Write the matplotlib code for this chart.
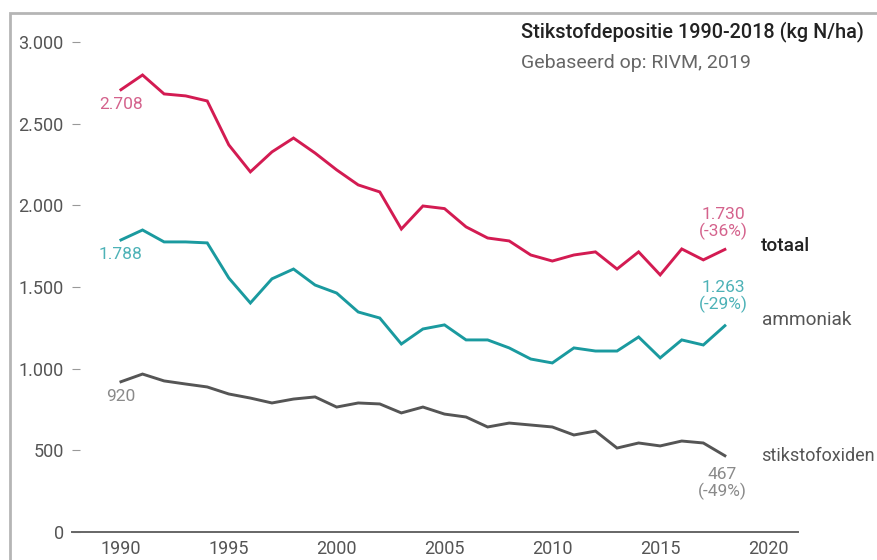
import matplotlib.pyplot as plt
from matplotlib.patches import Rectangle
from matplotlib.ticker import FuncFormatter

years = list(range(1990, 2019))
totaal = [2708, 2798, 2682, 2670, 2639, 2370, 2205, 2327, 2412, 2320,
          2217, 2125, 2082, 1855, 1996, 1980, 1868, 1800, 1782, 1696,
          1659, 1696, 1715, 1610, 1715, 1574, 1733, 1666, 1730]
ammoniak = [1788, 1849, 1776, 1776, 1770, 1555, 1402, 1550, 1610, 1512,
            1463, 1347, 1310, 1151, 1243, 1268, 1176, 1176, 1127, 1059,
            1035, 1127, 1108, 1108, 1194, 1066, 1176, 1145, 1263]
stikstofoxiden = [920, 967, 925, 906, 888, 845, 820, 790, 814, 827,
                  765, 790, 784, 729, 765, 722, 704, 643, 667, 655,
                  643, 594, 618, 514, 545, 527, 557, 545, 467]

series_names = ["totaal", "ammoniak", "stikstofoxiden"]
start_labels = ["2.708", "1.788", "920"]
end_labels = ["1.730\n(-36%)", "1.263\n(-29%)", "467\n(-49%)"]

line_colors = ["#d31b52", "#1a9a9f", "#555555"]
label_colors = ["#d4628c", "#4db2b7", "#8a8a8a"]

plt.rcParams['font.family'] = ['Roboto', 'DejaVu Sans']

fig = plt.figure(figsize=(8.77, 5.6), dpi=100)
ax = fig.add_axes([72 / 877, 28 / 560, 726 / 877, 490 / 560])

# grey frame, cut off at the right and bottom
fig.patches.append(Rectangle((10 / 877, -0.1), 1.2, (547 + 56) / 560,
                             transform=fig.transFigure, fill=False,
                             edgecolor="#b5b5b5", linewidth=2))

data = [totaal, ammoniak, stikstofoxiden]
for vals, c in zip(data, line_colors):
    ax.plot(years, vals, color=c, linewidth=2.1, solid_joinstyle="miter")

ax.set_xlim(1987.73, 2021.39)
ax.set_ylim(0, 3000)
ax.set_xticks(range(1990, 2021, 5))
ax.set_yticks(range(0, 3001, 500))
ax.yaxis.set_major_formatter(FuncFormatter(lambda v, p: f"{int(v):,}".replace(",", ".")))

for s in ["top", "right", "left"]:
    ax.spines[s].set_visible(False)
ax.spines["bottom"].set_color("#666666")
ax.spines["bottom"].set_linewidth(1.4)
ax.tick_params(axis="x", length=0, pad=6, labelsize=13, labelcolor="#555555")
ax.tick_params(axis="y", direction="in", length=6, width=0.8, color="#999999",
               pad=6, labelsize=13, labelcolor="#555555")

# start values
for vals, txt, c in zip(data, start_labels, label_colors):
    ax.annotate(txt, (years[0], vals[0]), xytext=(0, -10.5), textcoords="offset points",
                ha="center", va="center", fontsize=12.5, color=c)

# end values
end_offsets = [(-1, 19), (-1, 21), (-2, -20)]
for vals, txt, c, off in zip(data, end_labels, label_colors, end_offsets):
    ax.annotate(txt, (years[-1], vals[-1]), xytext=off, textcoords="offset points",
                ha="center", va="center", fontsize=12.5, color=c, linespacing=1.05,
                annotation_clip=False)

# series names
name_offsets = [(-2, 2.5), (-1, 4), (-2, 0)]
name_weights = ["medium", "normal", "normal"]
name_colors = ["#222222", "#555555", "#555555"]
name_sizes = [13.7, 13.7, 13]
for vals, name, off, w, c, fs in zip(data, series_names, name_offsets, name_weights,
                                     name_colors, name_sizes):
    ax.annotate(name, (years[-1], vals[-1]), xytext=(off[0] + 28, off[1]),
                textcoords="offset points", ha="left", va="center",
                fontsize=fs, fontweight=w, color=c, annotation_clip=False)

fig.text(521 / 877, 1 - 32 / 560, "Stikstofdepositie 1990-2018 (kg N/ha)",
         fontsize=14.3, fontweight="medium", color="#222222", va="center")
fig.text(521 / 877, 1 - 63 / 560, "Gebaseerd op: RIVM, 2019",
         fontsize=14, color="#666666", va="center")

fig.savefig("out.png", dpi=100)
